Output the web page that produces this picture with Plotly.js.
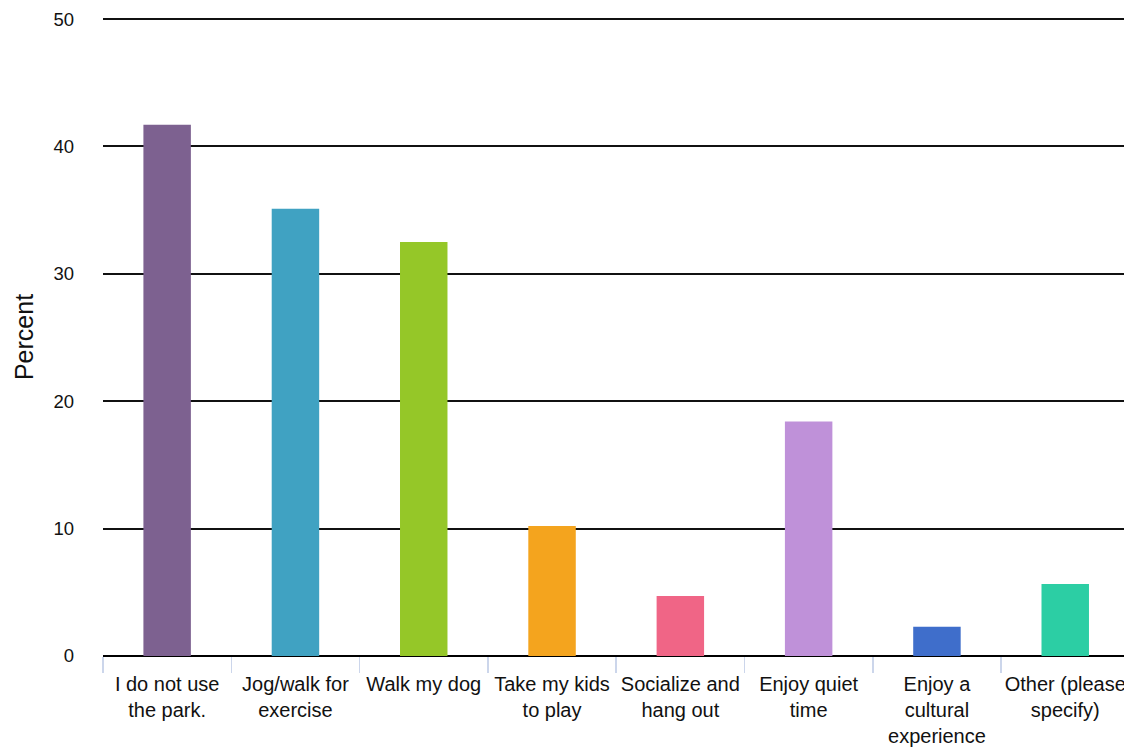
<!DOCTYPE html>
<html>
<head>
<meta charset="utf-8">
<script src="https://cdn.plot.ly/plotly-3.0.1.min.js"></script>
<style>
  html, body { margin: 0; padding: 0; background: #fff; }
  #chart { width: 1124px; height: 751px; }
</style>
</head>
<body>
<div id="chart"></div>
<script>
const categories = [
  "I do not use the park.",
  "Jog/walk for exercise",
  "Walk my dog",
  "Take my kids to play",
  "Socialize and hang out",
  "Enjoy quiet time",
  "Enjoy a cultural experience",
  "Other (please specify)"
];
const tickLabels = [
  "I do not use<br>the park.",
  "Jog/walk for<br>exercise",
  "Walk my dog",
  "Take my kids<br>to play",
  "Socialize and<br>hang out",
  "Enjoy quiet<br>time",
  "Enjoy a<br>cultural<br>experience",
  "Other (please<br>specify)"
];
const percentValues = [41.7, 35.1, 32.5, 10.2, 4.7, 18.4, 2.3, 5.65];
const barColors = ["#7d6190", "#40a2c2", "#95c728", "#f4a41e", "#f06586", "#bf91d9", "#3f6ecb", "#2ccea4"];
const yTickValues = [0, 10, 20, 30, 40, 50];

const font = "Liberation Sans, Arial, Helvetica, sans-serif";

const trace = {
  type: "bar",
  x: categories,
  y: percentValues,
  width: 0.37,
  marker: { color: barColors, line: { width: 0 } },
  hoverinfo: "x+y",
  showlegend: false
};

const layout = {
  width: 1124,
  height: 751,
  margin: { l: 103, r: 0, t: 18, b: 95, pad: 0 },
  paper_bgcolor: "#ffffff",
  plot_bgcolor: "#ffffff",
  font: { family: font, size: 19, color: "#111" },
  xaxis: {
    type: "category",
    categoryorder: "array",
    categoryarray: categories,
    tickvals: categories,
    ticktext: tickLabels,
    range: [-0.5, 7.458],
    tickson: "boundaries",
    ticks: "outside",
    ticklen: 16,
    tickwidth: 1.5,
    tickcolor: "#ccd6eb",
    ticklabelstandoff: 14,
    showgrid: false,
    showline: false,
    zeroline: false,
    tickangle: 0,
    tickfont: { family: font, size: 20, color: "#111" },
    automargin: false
  },
  yaxis: {
    range: [0, 50.08],
    tickvals: yTickValues,
    ticktext: yTickValues.map(String),
    showgrid: true,
    gridcolor: "#111",
    gridwidth: 2,
    zeroline: true,
    zerolinecolor: "#000",
    zerolinewidth: 2.5,
    showline: false,
    ticks: "",
    ticklabelstandoff: 28,
    tickfont: { family: font, size: 18.5, color: "#111" },
    title: { text: "Percent", font: { family: font, size: 25, color: "#111" }, standoff: 12 },
    automargin: false
  }
};

Plotly.newPlot("chart", [trace], layout, { displayModeBar: false, staticPlot: true });
</script>
</body>
</html>
